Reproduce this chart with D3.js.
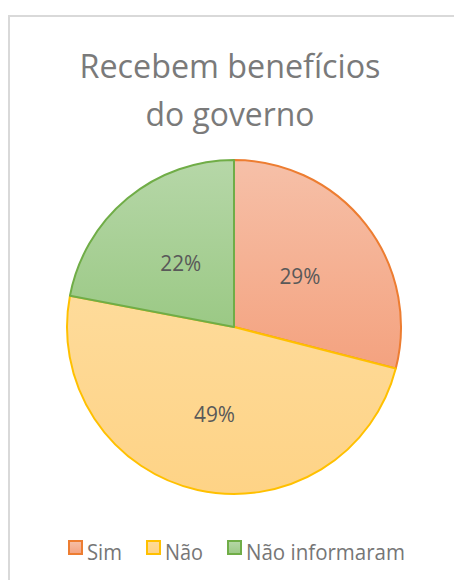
<!DOCTYPE html>
<html>
<head>
<meta charset="utf-8">
<script src="https://cdn.jsdelivr.net/npm/d3@7"></script>
<style>
  html, body { margin: 0; padding: 0; background: #ffffff; }
  svg { display: block; }
</style>
</head>
<body>
<svg id="chart" width="454" height="580"></svg>
<script>
const titleLines = ["Recebem benefícios", "do governo"];
const categories = ["Sim", "Não", "Não informaram"];
const values = [29, 49, 22];
const labels = ["29%", "49%", "22%"];
const strokeColors = ["#ed7d31", "#ffc000", "#70ad47"];
const fillTop = ["#f6c0a8", "#fedb9a", "#b6d7a8"];
const fillBottom = ["#f4a27f", "#fed386", "#9bc985"];

const W = 454, H = 580;
const cx = 234, cy = 327, R = 167;
const font = "'Open Sans', 'Noto Sans', sans-serif";

const svg = d3.select("#chart");
const defs = svg.append("defs");

// chart area border (only top and left edges are in view)
svg.append("path")
  .attr("d", `M9,${H} V16 H${W}`)
  .attr("fill", "none")
  .attr("stroke", "#d9d9d9")
  .attr("stroke-width", 2);

// gradients
categories.forEach((c, i) => {
  const g = defs.append("linearGradient")
    .attr("id", "grad" + i)
    .attr("x1", 0).attr("y1", 0).attr("x2", 0).attr("y2", 1);
  g.append("stop").attr("offset", "0%").attr("stop-color", fillTop[i]);
  g.append("stop").attr("offset", "100%").attr("stop-color", fillBottom[i]);
});

// title
const titleWidths = [301, 169];
const titleBaselines = [78, 126];
titleLines.forEach((t, i) => {
  svg.append("text")
    .attr("x", 230)
    .attr("y", titleBaselines[i])
    .attr("text-anchor", "middle")
    .attr("font-family", font)
    .attr("font-size", 32)
    .attr("fill", "#7a7a7a")
    .attr("textLength", titleWidths[i])
    .attr("lengthAdjust", "spacingAndGlyphs")
    .text(t);
});

// pie
const pie = d3.pie().sort(null).value(d => d)(values);
const arc = d3.arc().innerRadius(0).outerRadius(R);
const labelArc = d3.arc().innerRadius(0).outerRadius(R);
const labelScale = [1.0, 1.07, 1.0];

const g = svg.append("g").attr("transform", `translate(${cx},${cy})`);
g.selectAll("path.slice")
  .data(pie)
  .join("path")
  .attr("class", "slice")
  .attr("d", arc)
  .attr("fill", (d, i) => `url(#grad${i})`)
  .attr("stroke", (d, i) => strokeColors[i])
  .attr("stroke-width", 2)
  .attr("stroke-linejoin", "round");

// data labels
g.selectAll("text.lbl")
  .data(pie)
  .join("text")
  .attr("class", "lbl")
  .attr("x", (d, i) => labelArc.centroid(d)[0] * labelScale[i])
  .attr("y", (d, i) => labelArc.centroid(d)[1] * labelScale[i] + 8)
  .attr("text-anchor", "middle")
  .attr("font-family", font)
  .attr("font-size", 21)
  .attr("fill", "#595959")
  .attr("textLength", 41)
  .attr("lengthAdjust", "spacingAndGlyphs")
  .text((d, i) => labels[i]);

// legend
const legendX = [69, 147, 228];
const legendTextW = [35, 38, 159];
const lg = svg.append("g");
categories.forEach((c, i) => {
  lg.append("rect")
    .attr("x", legendX[i]).attr("y", 541)
    .attr("width", 13).attr("height", 13)
    .attr("fill", `url(#grad${i})`)
    .attr("stroke", strokeColors[i])
    .attr("stroke-width", 2);
  lg.append("text")
    .attr("x", legendX[i] + 18)
    .attr("y", 560)
    .attr("font-family", font)
    .attr("font-size", 21)
    .attr("fill", "#767676")
    .attr("textLength", legendTextW[i])
    .attr("lengthAdjust", "spacingAndGlyphs")
    .text(c);
});
</script>
</body>
</html>
